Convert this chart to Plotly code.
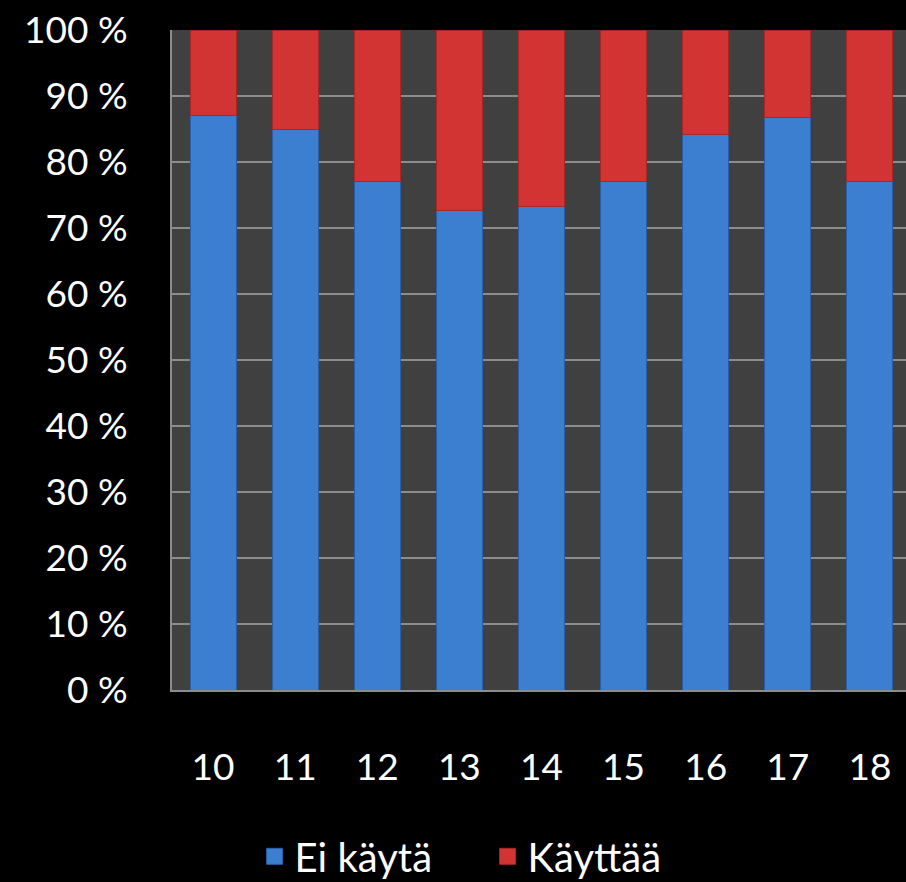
import plotly.graph_objects as go

categories = ["10", "11", "12", "13", "14", "15", "16", "17", "18"]
ei_kayta = [87.1, 85.0, 77.1, 72.7, 73.3, 77.1, 84.1, 86.8, 77.1]
kayttaa = [round(100 - v, 1) for v in ei_kayta]
y_ticks = [0, 10, 20, 30, 40, 50, 60, 70, 80, 90, 100]
y_tick_labels = [f"{v} %" for v in y_ticks]
series_names = ["Ei käytä", "Käyttää"]
series_colors = ["#3c7fd1", "#d23434"]
series_edges = ["#2a5fa8", "#a82626"]

FONT = "Lato, 'Open Sans', sans-serif"
FS = 37

fig = go.Figure()
for name, vals, col, edge in zip(series_names, [ei_kayta, kayttaa], series_colors, series_edges):
    fig.add_trace(go.Bar(x=categories, y=vals, name=name, showlegend=False,
                         marker=dict(color=col, line=dict(color=edge, width=1))))
# legend proxies (larger square swatches)
for name, col, edge in zip(series_names, series_colors, series_edges):
    fig.add_trace(go.Scatter(x=[None], y=[None], mode="markers", name=name,
                             marker=dict(symbol="square", size=16, color=col,
                                         line=dict(color=edge, width=1))))

fig.update_layout(
    barmode="stack",
    bargap=0.44,
    width=906, height=882,
    margin=dict(l=172, r=0, t=30, b=192, autoexpand=False),
    paper_bgcolor="#000000",
    plot_bgcolor="#404040",
    font=dict(family=FONT, size=FS, color="#ffffff"),
    showlegend=True,
    legend=dict(orientation="h", x=0.43, xanchor="center", y=-0.252, yanchor="middle",
                font=dict(size=40, color="#ffffff"), bgcolor="rgba(0,0,0,0)",
                traceorder="normal", itemsizing="trace", itemwidth=30,
                entrywidth=188),
    xaxis=dict(range=[-0.5, 8.44], showgrid=False, showline=True, linecolor="#8c8c8c",
               linewidth=2, ticks="", ticklabelstandoff=44,
               tickfont=dict(size=FS, color="#ffffff", family=FONT)),
    yaxis=dict(range=[0, 100], tickvals=y_ticks, ticktext=y_tick_labels,
               showgrid=True, gridcolor="#8c8c8c", gridwidth=2,
               showline=True, linecolor="#8c8c8c", linewidth=2, ticks="",
               ticklabelstandoff=35, zeroline=False,
               tickfont=dict(size=FS, color="#ffffff", family=FONT)),
)

fig.write_html("out.html", config={"displayModeBar": False},
               post_script="document.body.style.margin='0';document.body.style.background='#000';")
